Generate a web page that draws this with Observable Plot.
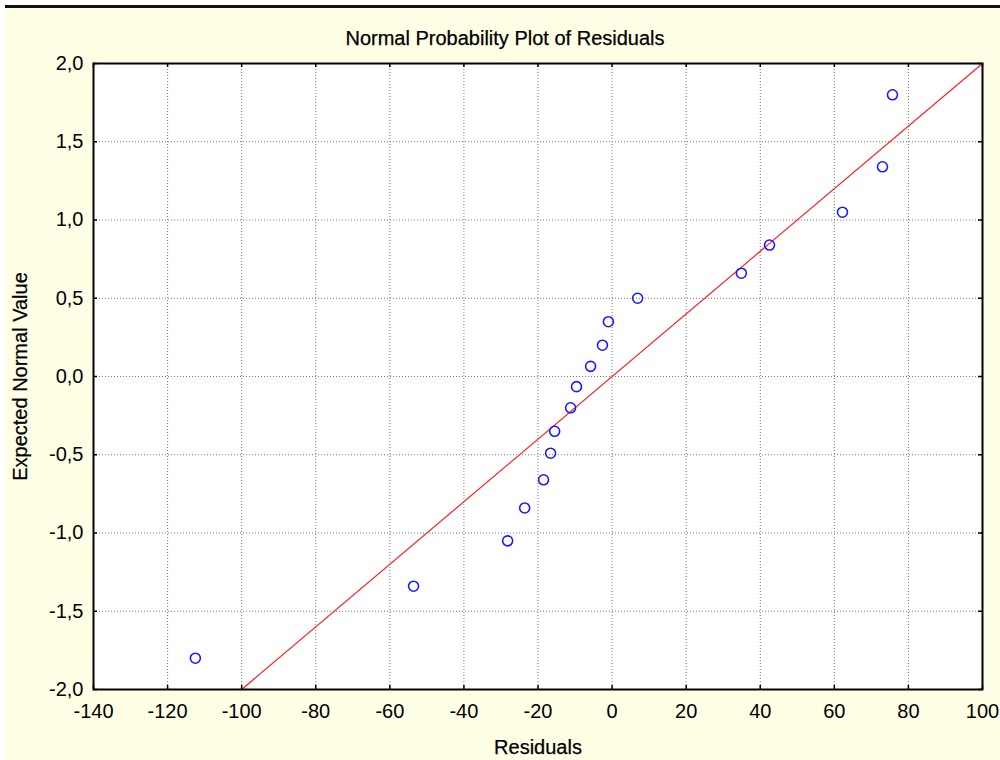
<!DOCTYPE html>
<html>
<head>
<meta charset="utf-8">
<script src="https://cdn.jsdelivr.net/npm/d3@7"></script>
<script src="https://cdn.jsdelivr.net/npm/@observablehq/plot@0.6"></script>
<style>
  html, body { margin: 0; padding: 0; background: #ffffff; }
  #bg { position: absolute; left: 5px; top: 5px; width: 995px; height: 755px; background: #ffffe6; border-top: 3px solid #111; box-sizing: border-box; }
  #chart { position: absolute; left: 0; top: 0; }
</style>
</head>
<body>
<div id="bg"></div>
<div id="chart"></div>
<script>
const title = "Normal Probability Plot of Residuals";
const xLabel = "Residuals";
const yLabel = "Expected Normal Value";

const residuals = [-112.5, -53.6, -28.2, -23.6, -18.5, -16.6, -15.5, -11.2, -9.6, -5.8, -2.6, -1.0, 6.9, 34.9, 42.5, 62.2, 73.0, 75.7];
const expected  = [-1.80, -1.34, -1.05, -0.84, -0.66, -0.49, -0.35, -0.20, -0.065, 0.065, 0.20, 0.35, 0.50, 0.66, 0.84, 1.05, 1.34, 1.80];

const fitX = [-100, 100];
const fitY = [-2, 2];

const xTicks = [-140, -120, -100, -80, -60, -40, -20, 0, 20, 40, 60, 80, 100];
const yTicks = [-2.0, -1.5, -1.0, -0.5, 0.0, 0.5, 1.0, 1.5, 2.0];

const points = residuals.map((r, i) => ({r, e: expected[i]}));
const fit = fitX.map((x, i) => ({x, y: fitY[i]}));

const fmtY = d => d.toFixed(1).replace(".", ",").replace("−", "-");
const fmtX = d => String(d);

const innerW = 1000 - 93 - 18;
const innerH = 760 - 63 - 71;
const tickLen = 4;
const txt = {fill: "#000", stroke: "#000", strokeWidth: 0.25};

const chart = Plot.plot({
  width: 1000,
  height: 760,
  marginLeft: 93,
  marginRight: 18,
  marginTop: 63,
  marginBottom: 71,
  style: {background: "transparent", fontFamily: "'Liberation Sans', Arial, sans-serif", color: "#000"},
  x: {domain: [-140, 100]},
  y: {domain: [-2, 2]},
  marks: [
    Plot.frame({fill: "white", stroke: null}),
    Plot.gridX(xTicks.slice(1, -1), {stroke: "#777", strokeOpacity: 1, strokeDasharray: "1,2", strokeWidth: 1}),
    Plot.gridY(yTicks.slice(1, -1), {stroke: "#777", strokeOpacity: 1, strokeDasharray: "1,2", strokeWidth: 1}),
    Plot.tickX(xTicks, {x: d => d, insetTop: innerH - tickLen, stroke: "#000", strokeWidth: 1.5}),
    Plot.tickX(xTicks, {x: d => d, insetBottom: innerH - tickLen, stroke: "#000", strokeWidth: 1.5}),
    Plot.tickY(yTicks, {y: d => d, insetRight: innerW - tickLen, stroke: "#000", strokeWidth: 1.5}),
    Plot.tickY(yTicks, {y: d => d, insetLeft: innerW - tickLen, stroke: "#000", strokeWidth: 1.5}),
    Plot.line(fit, {x: "x", y: "y", stroke: "#ff2020", strokeWidth: 1.2}),
    Plot.dot(points, {x: "r", y: "e", r: 5, stroke: "#1a1aff", strokeWidth: 1.6, fill: "none"}),
    Plot.frame({stroke: "#000", strokeWidth: 2}),
    Plot.axisX(xTicks, {tickSize: 0, tickPadding: 14, tickFormat: fmtX, fontSize: 20, label: null, fill: "#000"}),
    Plot.axisY(yTicks, {tickSize: 0, tickPadding: 10, tickFormat: fmtY, fontSize: 20, label: null, fill: "#000"}),
    Plot.text([title], {frameAnchor: "top", dx: -33, dy: -33, fontSize: 20, ...txt}),
    Plot.text([xLabel], {frameAnchor: "bottom", dy: 64, fontSize: 20, ...txt}),
    Plot.text([yLabel], {frameAnchor: "left", textAnchor: "middle", dx: -73, rotate: -90, fontSize: 20, ...txt})
  ]
});
document.getElementById("chart").appendChild(chart);
</script>
</body>
</html>
